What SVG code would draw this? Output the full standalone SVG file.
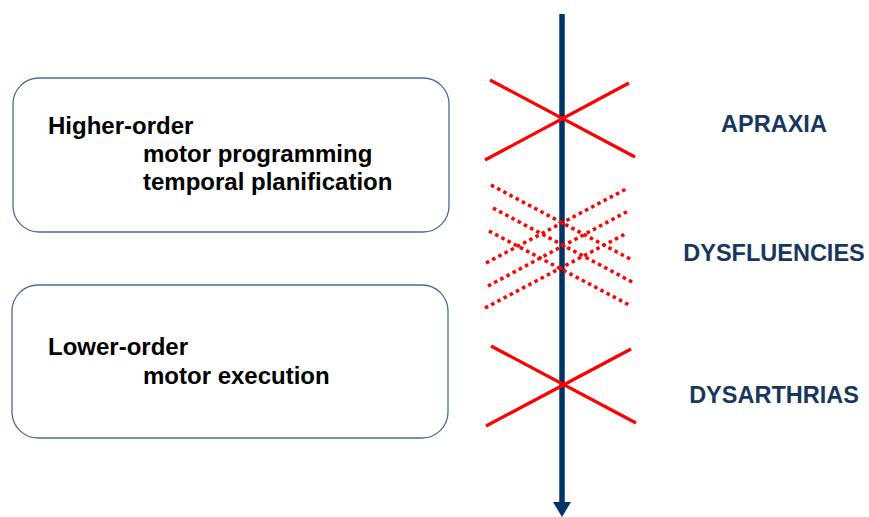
<svg xmlns="http://www.w3.org/2000/svg" width="869" height="517" viewBox="0 0 869 517">
<style>
.box{fill:#fff;stroke:#4a6a96;stroke-width:1.3}
.t{font-family:"Liberation Sans",Arial,sans-serif;font-weight:bold;font-size:24px;fill:#000}
.lab{font-family:"Liberation Sans",Arial,sans-serif;font-weight:bold;font-size:23.5px;fill:#17375e;text-anchor:middle}
.x{stroke:#ff0000;stroke-width:3.2;fill:none}
.d{stroke:#ff0000;stroke-width:3.5;fill:none;stroke-dasharray:3.5 3.5}
</style>
<rect width="869" height="517" fill="#fff"/>
<g id="higher">
<rect class="box" x="13" y="78" width="436" height="154" rx="26"/>
<text class="t" x="48" y="134">Higher-order</text>
<text class="t" x="143" y="162">motor programming</text>
<text class="t" x="143" y="190">temporal planification</text>
</g>
<g id="lower">
<rect class="box" x="12" y="285" width="436" height="153" rx="26"/>
<text class="t" x="48" y="355">Lower-order</text>
<text class="t" x="143" y="384">motor execution</text>
</g>
<g id="connectors">
<line x1="562" y1="14" x2="562" y2="505" stroke="#003366" stroke-width="5.5"/>
<polygon points="553,502 571,502 562,517" fill="#003366"/>
</g>
<g id="apraxia">
<line class="x" x1="490" y1="80" x2="635" y2="157"/>
<line class="x" x1="485" y1="160" x2="629" y2="83"/>
<text class="lab" x="774" y="132">APRAXIA</text>
</g>
<g id="dysfluencies">
<line class="d" x1="491" y1="185" x2="632" y2="260"/>
<line class="d" x1="493" y1="208" x2="634" y2="283"/>
<line class="d" x1="489" y1="231" x2="631" y2="306"/>
<line class="d" x1="486" y1="263" x2="628" y2="188"/>
<line class="d" x1="488" y1="286" x2="630" y2="210"/>
<line class="d" x1="485" y1="308" x2="627" y2="233"/>
<text class="lab" x="774" y="261">DYSFLUENCIES</text>
</g>
<g id="dysarthrias">
<line class="x" x1="491" y1="346" x2="636" y2="423"/>
<line class="x" x1="486" y1="426" x2="631" y2="349"/>
<text class="lab" x="774" y="403">DYSARTHRIAS</text>
</g>
</svg>
